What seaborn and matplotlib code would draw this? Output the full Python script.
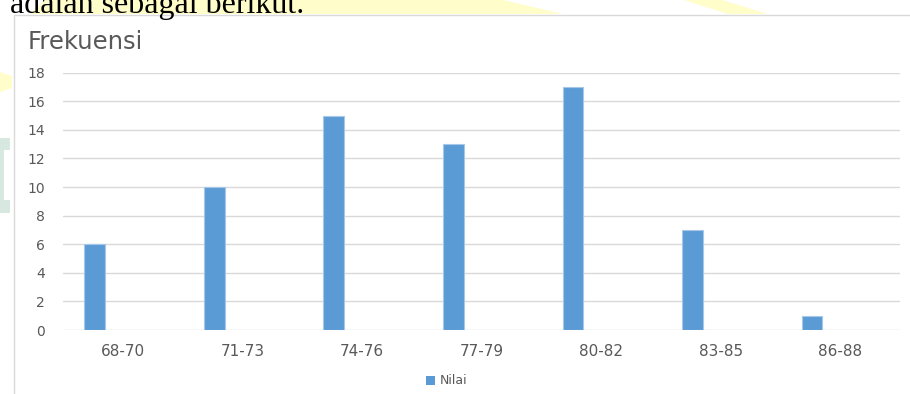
import matplotlib
matplotlib.use("Agg")
import matplotlib.pyplot as plt
from matplotlib.patches import Rectangle, Polygon, Patch
import pandas as pd
import seaborn as sns

# Frequency distribution of scores (class intervals)
kelas = ["68-70", "71-73", "74-76", "77-79", "80-82", "83-85", "86-88"]
frekuensi = [6, 10, 15, 13, 17, 7, 1]
y_ticks = [0, 2, 4, 6, 8, 10, 12, 14, 16, 18]
series_name = "Nilai"
axis_title = "Frekuensi"
lead_text = "adalah sebagai berikut."

BAR_COLOR = "#5B9BD5"
GRID_COLOR = "#D9D9D9"
TEXT_COLOR = "#595959"

sns.set_theme(style="white")
plt.rcParams["font.family"] = ["DejaVu Sans"]

W, H = 910, 394
fig = plt.figure(figsize=(W / 100, H / 100), dpi=100)
fig.patch.set_facecolor("white")


def fx(x):
    return x / W


def fy(y):
    return 1 - y / H


# faint page watermark behind the chart
wm_yellow = "#FFFDC9"
wm_green = "#D7E8E0"
for pts, col in [
    ([(45, 0), (503, 0), (563, 14), (30, 14)], wm_yellow),
    ([(684, 0), (722, 0), (768, 14), (728, 14)], wm_yellow),
    ([(0, 72), (12, 76), (12, 88), (0, 92)], wm_yellow),
    ([(0, 138), (10, 138), (10, 213), (0, 213)], wm_green),
]:
    fig.patches.append(Polygon([(fx(a), fy(b)) for a, b in pts], closed=True,
                               transform=fig.transFigure, facecolor=col,
                               edgecolor="none", zorder=0))
fig.patches.append(Polygon([(fx(a), fy(b)) for a, b in
                            [(4, 150), (10, 150), (10, 200), (4, 200)]],
                           closed=True, transform=fig.transFigure,
                           facecolor="white", edgecolor="none", zorder=0.5))

# sentence from the page above the chart (its upper part runs off the page)
fig.text(fx(10), fy(13), lead_text, family="Liberation Serif", fontsize=23,
         color="black", va="baseline", ha="left", zorder=1)

# chart area frame
fig.patches.append(Rectangle((fx(13.5), fy(400)), (915 - 13.5) / W,
                             (400 - 14.5) / H, transform=fig.transFigure,
                             facecolor="white", edgecolor=GRID_COLOR,
                             linewidth=1.0, zorder=1))

ax = fig.add_axes([fx(63), fy(330), (900 - 63) / W, (330 - 72.7) / H])
ax.set_facecolor("none")
ax.set_zorder(2)

# bars sit left of each category centre, as in a clustered column chart
offset = -0.235
df = pd.DataFrame({
    "pos": [i + offset for i in range(len(kelas))],
    "frekuensi": frekuensi,
})
sns.barplot(data=df, x="pos", y="frekuensi", native_scale=True, width=0.173,
            color=BAR_COLOR, saturation=1, edgecolor="#A7C7E9", linewidth=0.8,
            ax=ax, zorder=3)

ax.set_xlim(-0.5, len(kelas) - 0.5)
ax.set_ylim(0, 18)
ax.set_xticks(range(len(kelas)))
ax.set_xticklabels(kelas)
ax.set_yticks(y_ticks)
ax.set_yticklabels([str(v) for v in y_ticks])
ax.set_xlabel("")
ax.set_ylabel("")
for s in ax.spines.values():
    s.set_visible(False)
ax.grid(axis="y", color=GRID_COLOR, linewidth=1.0, zorder=0)
ax.grid(axis="x", visible=False)
ax.set_axisbelow(True)
ax.tick_params(axis="x", length=0, pad=10, labelsize=11, labelcolor=TEXT_COLOR)
ax.tick_params(axis="y", length=0, pad=13, labelsize=10, labelcolor=TEXT_COLOR)

fig.text(fx(28), fy(49), axis_title, fontsize=17.5, color=TEXT_COLOR,
         va="baseline", ha="left", zorder=3)

handle = Patch(facecolor=BAR_COLOR, edgecolor="none")
leg = fig.legend([handle], [series_name], loc="center",
                 bbox_to_anchor=(fx(447), fy(381)), frameon=False,
                 fontsize=9, handlelength=0.7, handleheight=0.7,
                 handletextpad=0.4, labelcolor=TEXT_COLOR)
leg.set_zorder(3)

fig.savefig("out.png", dpi=100)
